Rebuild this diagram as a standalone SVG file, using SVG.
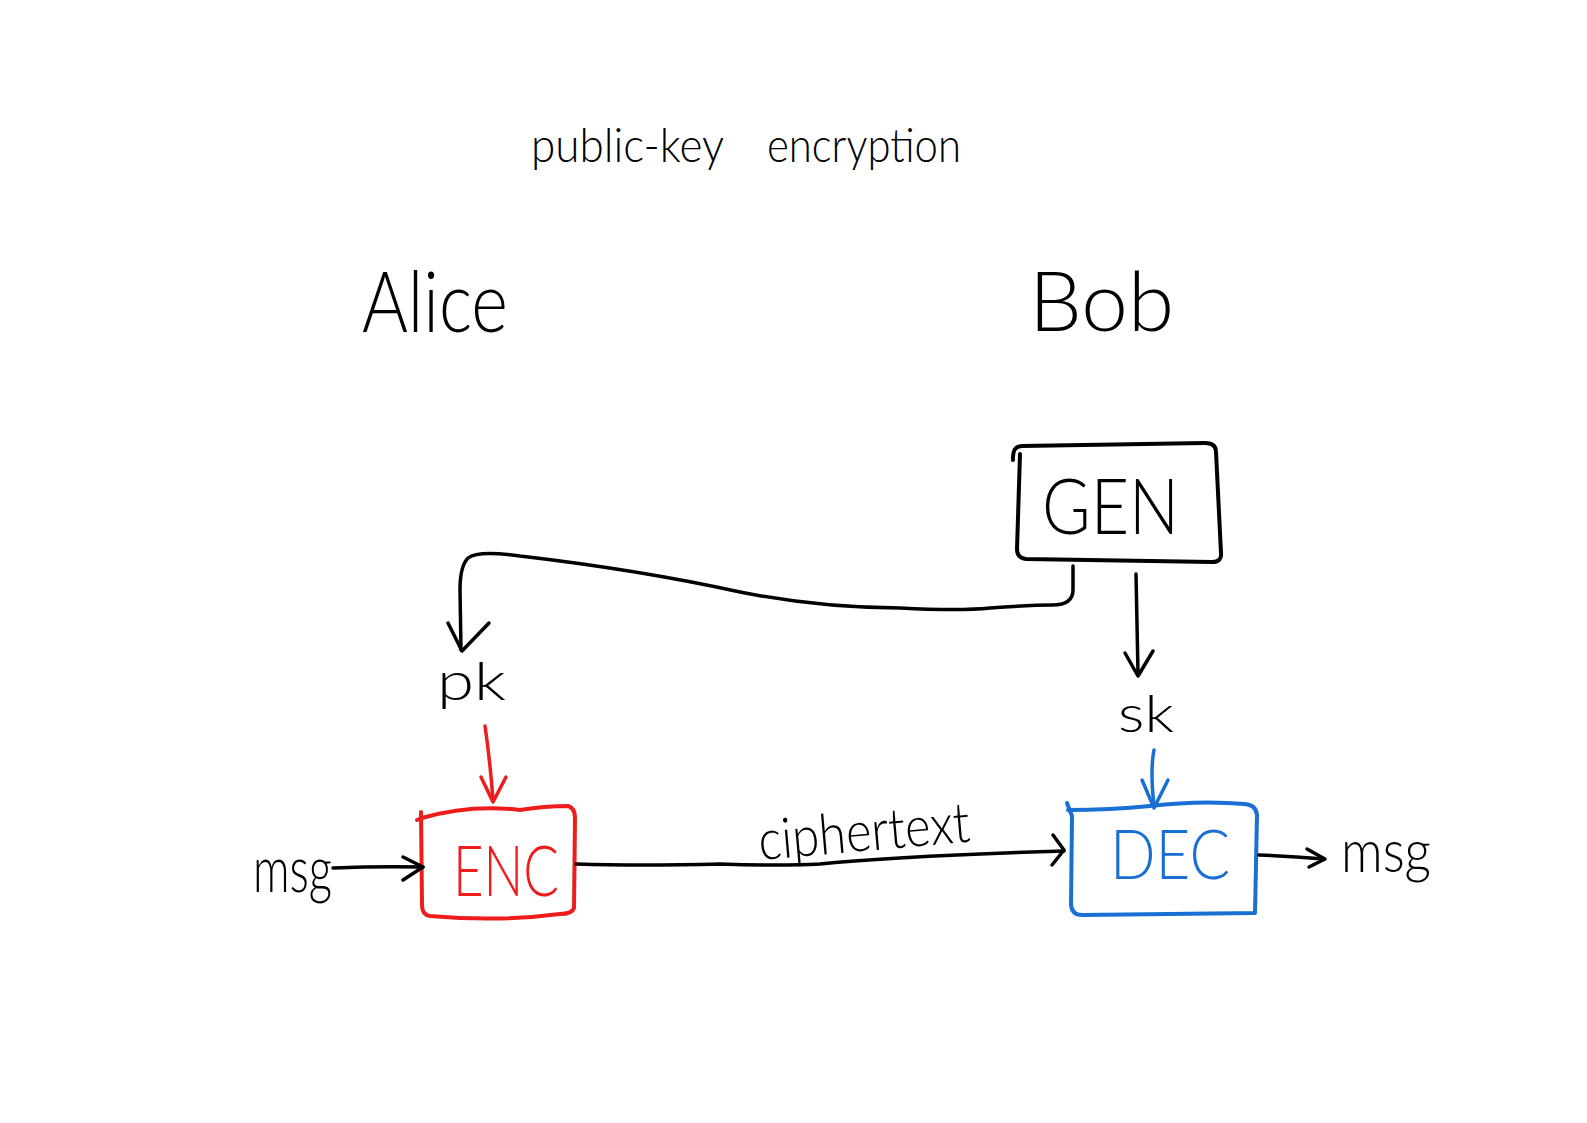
<svg xmlns="http://www.w3.org/2000/svg" width="1587" height="1123" viewBox="0 0 1587 1123">
<defs>
<style>
.t{font-family:"Lato","Liberation Sans","DejaVu Sans",sans-serif;font-weight:300;fill:#000}
.ln{fill:none;stroke:#000;stroke-width:3.5;stroke-linecap:round;stroke-linejoin:round}
.red{stroke:#ee1c1c}
.blue{stroke:#1a6fd4}
.box{fill:none;stroke-width:4;stroke-linecap:round;stroke-linejoin:round}
</style>
</defs>
<rect width="1587" height="1123" fill="#fff"/>
<g id="title">
<text class="t" x="531" y="162" font-size="48" textLength="193" lengthAdjust="spacingAndGlyphs">public-key</text>
<text class="t" x="767" y="162" font-size="48" textLength="194" lengthAdjust="spacingAndGlyphs">encryption</text>
</g>
<g id="alice"><text class="t" x="362" y="332" font-size="84" textLength="146" lengthAdjust="spacingAndGlyphs">Alice</text></g>
<g id="bob"><text class="t" x="1029" y="331" font-size="82" textLength="145" lengthAdjust="spacingAndGlyphs">Bob</text></g>
<g id="gen">
<path class="box" stroke="#000" d="M1013,460 Q1012,446 1022,446 L1205,443 Q1216,443 1216,452 L1221,553 Q1222,562 1212,562 L1026,559 Q1017,558 1017,549 L1020,454"/>
<text class="t" x="1042" y="534" font-size="76" textLength="137" lengthAdjust="spacingAndGlyphs">GEN</text>
</g>
<g id="pk"><text class="t" x="437" y="700" font-size="54" textLength="69" lengthAdjust="spacingAndGlyphs">pk</text></g>
<g id="sk"><text class="t" x="1118" y="732" font-size="52" textLength="56" lengthAdjust="spacingAndGlyphs">sk</text></g>
<g id="enc">
<path class="box red" d="M417,820 L422,818 Q470,804 520,810 Q545,806 568,806 Q575,808 575,818 L574,908 Q572,914 560,914 Q500,922 430,916 Q422,915 422,905 L421,812"/>
<text x="453" y="896" font-size="70" textLength="106" lengthAdjust="spacingAndGlyphs" style="font-family:'Lato','Liberation Sans',sans-serif;font-weight:300;fill:#ee1c1c">ENC</text>
</g>
<g id="dec">
<path class="box blue" d="M1067,803 L1072,816 L1071,905 Q1072,915 1082,915 L1255,913 L1257,815 Q1256,805 1245,804 Q1200,800 1150,806 Q1110,810 1068,810"/>
<text x="1110" y="879" font-size="68" textLength="120" lengthAdjust="spacingAndGlyphs" style="font-family:'Lato','Liberation Sans',sans-serif;font-weight:300;fill:#1a6fd4">DEC</text>
</g>
<g id="msg-in"><text class="t" x="253" y="892" font-size="66" textLength="79" lengthAdjust="spacingAndGlyphs">msg</text></g>
<g id="msg-out"><text class="t" x="1341" y="872" font-size="60" textLength="90" lengthAdjust="spacingAndGlyphs">msg</text></g>
<g id="ciphertext-label"><text class="t" x="760" y="860" font-size="56" textLength="212" lengthAdjust="spacingAndGlyphs" transform="rotate(-5 760 860)">ciphertext</text></g>
<g id="connectors">
<path class="ln" d="M1073,566 L1073,590 Q1073,605 1052,605 Q1030,605 990,608 Q960,611 900,608 Q820,608 740,592 Q640,570 520,556 Q478,550 468,558 Q460,566 460,590 L461,650"/>
<path class="ln" d="M448,623 L462,651 L489,623"/>
<path class="ln" d="M1136,574 L1138,673"/>
<path class="ln" d="M1125,653 L1138,676 L1153,651"/>
<path class="ln red" d="M485,726 Q490,760 493,800"/>
<path class="ln red" d="M481,777 L493,802 L506,777"/>
<path class="ln blue" d="M1154,750 Q1150,770 1154,806"/>
<path class="ln blue" d="M1142,780 L1154,808 L1168,780"/>
<path class="ln" d="M333,868 Q380,866 423,867"/>
<path class="ln" d="M403,857 L423,867 L403,880"/>
<path class="ln" d="M576,864 Q640,866 720,864 Q780,866 820,864 Q900,856 1064,851"/>
<path class="ln" d="M1053,835 L1064,850 L1052,865"/>
<path class="ln" d="M1259,855 Q1290,856 1324,859"/>
<path class="ln" d="M1307,849 L1325,859 L1309,867"/>
</g>
</svg>
